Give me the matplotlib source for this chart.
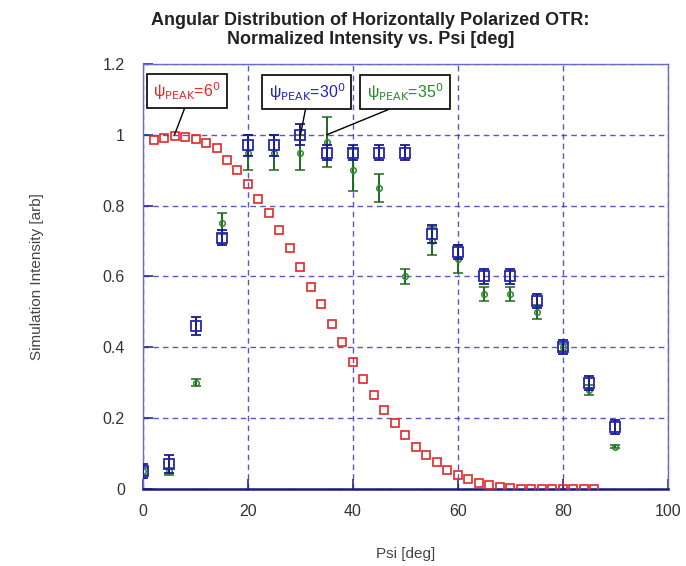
import matplotlib
matplotlib.use("Agg")
import matplotlib.pyplot as plt

plt.rcParams["font.family"] = ["Liberation Sans", "DejaVu Sans"]

# ---- data ----
psi_sim = [2, 4, 6, 8, 10, 12, 14, 16, 18, 20, 22, 24, 26, 28, 30, 32, 34, 36,
           38, 40, 42, 44, 46, 48, 50, 52, 54, 56, 58, 60, 62, 64, 66, 68, 70,
           72, 74, 76, 78, 80, 82, 84, 86]
peak6 = [0.986, 0.99, 0.997, 0.994, 0.988, 0.977, 0.963, 0.93, 0.90, 0.862,
         0.82, 0.78, 0.73, 0.68, 0.627, 0.571, 0.523, 0.466, 0.415, 0.36,
         0.31, 0.265, 0.223, 0.187, 0.153, 0.12, 0.097, 0.075, 0.055, 0.04,
         0.028, 0.018, 0.011, 0.006, 0.003, 0.0, 0.0, 0.0, 0.0, 0.0, 0.0,
         0.0, 0.0]

psi_meas = [0, 5, 10, 15, 20, 25, 30, 35, 40, 45, 50, 55, 60, 65, 70, 75, 80, 85, 90]
peak30 = [0.05, 0.07, 0.46, 0.71, 0.97, 0.97, 1.0, 0.95, 0.95, 0.95, 0.95,
          0.72, 0.67, 0.60, 0.60, 0.53, 0.40, 0.30, 0.175]
peak30_err = [0.02, 0.025, 0.025, 0.02, 0.03, 0.03, 0.03, 0.02, 0.02, 0.02,
              0.02, 0.025, 0.02, 0.02, 0.02, 0.02, 0.02, 0.02, 0.02]
peak35 = [0.05, 0.05, 0.30, 0.75, 0.95, 0.95, 0.95, 0.98, 0.90, 0.85, 0.60,
          0.70, 0.65, 0.55, 0.55, 0.50, 0.40, 0.28, 0.12]
peak35_err = [0.01, 0.01, 0.01, 0.03, 0.05, 0.05, 0.05, 0.07, 0.06, 0.04,
              0.02, 0.04, 0.04, 0.02, 0.02, 0.02, 0.01, 0.015, 0.005]

x_ticks = [0, 20, 40, 60, 80, 100]
y_ticks = [0, 0.2, 0.4, 0.6, 0.8, 1.0, 1.2]
y_tick_labels = ["0", "0.2", "0.4", "0.6", "0.8", "1", "1.2"]

RED = "#e02828"
BLUE = "#2424b4"
GREEN = "#2a8a2a"
GRID = "#3c3cb0"

fig = plt.figure(figsize=(6.86, 5.66), dpi=100)
ax = fig.add_axes([0.2085, 0.136, 0.765, 0.751])

ax.grid(True, color=GRID, linestyle=(0, (4, 3)), linewidth=1.0, alpha=0.85)
ax.set_axisbelow(True)

ax.plot(psi_sim, peak6, linestyle="none", marker="s", markersize=5.5,
        markerfacecolor="none", markeredgecolor=RED, markeredgewidth=1.2, zorder=3)

ax.errorbar(psi_meas, peak35, yerr=peak35_err, fmt="o", markersize=4,
            markerfacecolor="none", markeredgecolor=GREEN, markeredgewidth=1.1,
            ecolor="#1e6a1e", elinewidth=1.4, capsize=3.5, capthick=1.2, zorder=4)
ax.errorbar(psi_meas, peak30, yerr=peak30_err, fmt="s", markersize=6.5,
            markerfacecolor="none", markeredgecolor=BLUE, markeredgewidth=1.3,
            ecolor="#1a1a8a", elinewidth=1.4, capsize=3.5, capthick=1.2, zorder=5)

ax.set_xlim(0, 100)
ax.set_ylim(0, 1.2)
ax.set_xticks(x_ticks)
ax.set_yticks(y_ticks)
ax.set_yticklabels(y_tick_labels)
ax.tick_params(direction="in", length=7, width=1.2, colors="#2a2a90",
               labelcolor="#333333", labelsize=11.5, pad=13)
ax.tick_params(axis="x", pad=11)

for side in ["left", "top", "right"]:
    ax.spines[side].set_color("#6a6acc")
    ax.spines[side].set_linewidth(1.0)
ax.spines["bottom"].set_color("#1a1a80")
ax.spines["bottom"].set_linewidth(1.8)

ax.set_xlabel("Psi [deg]", fontsize=11, color="#444444", labelpad=20)
ax.set_ylabel("Simulation Intensity [arb]", fontsize=11, color="#444444", labelpad=42)

fig.text(0.54, 0.978, "Angular Distribution of Horizontally Polarized OTR:\n"
         "Normalized Intensity vs. Psi [deg]",
         ha="center", va="top", fontsize=13, fontweight="bold",
         color="#222222", linespacing=1.1)

box = dict(boxstyle="square,pad=0.4", facecolor="white", edgecolor="black", linewidth=1.2)
line = dict(arrowstyle="-", color="black", linewidth=1.0, relpos=(0.5, 0.0),
            shrinkA=0, shrinkB=0)
ax.annotate("ψ$_{\\mathrm{PEAK}}$=6$^0$", xy=(6, 1.0), xytext=(8.4, 1.124),
            ha="center", va="center", fontsize=11.5, color=RED, bbox=box,
            arrowprops=line, zorder=6)
ax.annotate("ψ$_{\\mathrm{PEAK}}$=30$^0$", xy=(30, 1.0), xytext=(31.2, 1.121),
            ha="center", va="center", fontsize=11.5, color=BLUE, bbox=box,
            arrowprops=line, zorder=6)
ax.annotate("ψ$_{\\mathrm{PEAK}}$=35$^0$", xy=(35, 1.0), xytext=(49.9, 1.121),
            ha="center", va="center", fontsize=11.5, color=GREEN, bbox=box,
            arrowprops=line, zorder=6)

fig.savefig("out.png", dpi=100, facecolor="white")
